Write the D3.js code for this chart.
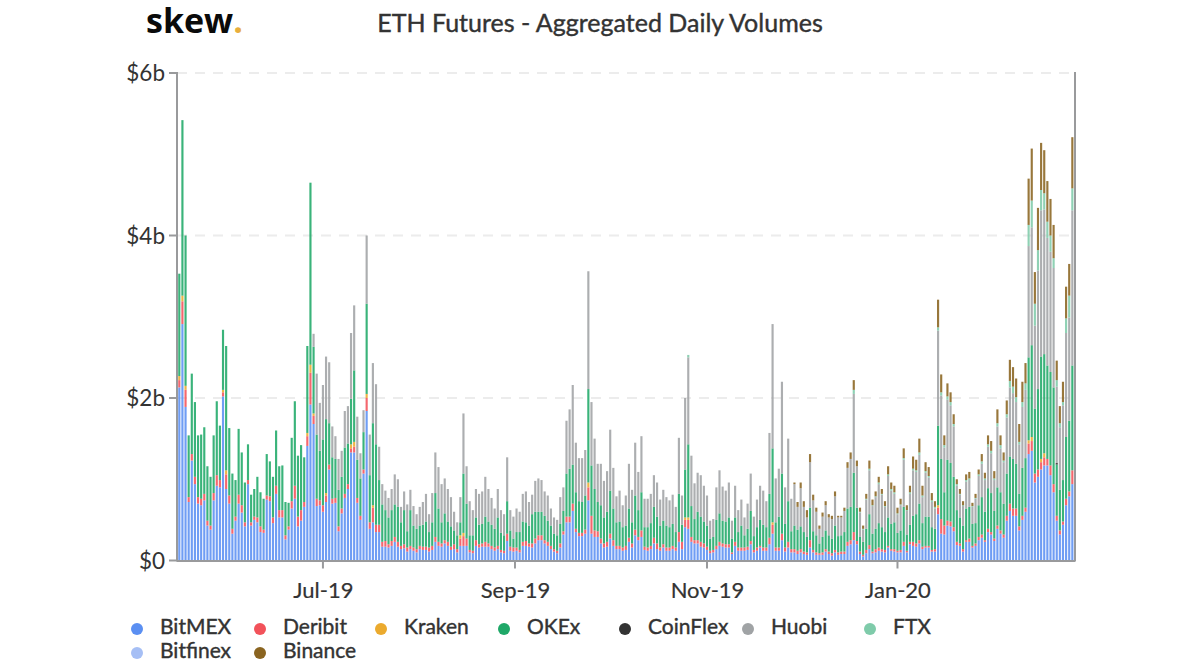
<!DOCTYPE html>
<html><head><meta charset="utf-8">
<script src="https://cdnjs.cloudflare.com/ajax/libs/d3/7.8.5/d3.min.js"></script>
<style>html,body{margin:0;padding:0;background:#fff}svg{display:block}text{font-family:Lato,sans-serif}</style>
</head><body><svg id="c" width="1200" height="670"></svg>
<script>
const bitmexTop=[2.13,2.91,1.89,.72,1.23,.94,.70,.68,.74,.43,.38,.74,.92,.90,2.02,.88,.70,.33,.49,.70,.59,.42,.94,.43,.50,.47,.35,.34,.75,.73,.46,.82,.53,.53,.26,.38,.64,.76,.42,.49,.66,1.41,1.92,1.68,.67,.68,.60,.72,1.12,.70,.71,.36,.58,.77,.88,1.33,1.33,.71,.50,1.07,1.84,.39,.47,.35,.35,.17,.17,.16,.18,.23,.17,
.14,.15,.11,.14,.12,.10,.14,.13,.13,.11,.13,.23,.18,.17,.21,.18,.13,.14,.10,.18,.18,.18,.10,.09,.18,.16,.17,.17,.17,.14,.12,.14,.10,.09,.24,.12,.11,.12,.10,.18,.18,.17,.16,.21,.25,.25,.21,.18,.14,.11,.09,.16,.32,.47,.47,.61,.35,.30,.30,.33,.74,.33,.29,.29,.21,.16,.17,.27,.18,.14,.14,.12,.13,.23,
.16,.31,.25,.29,.13,.12,.14,.21,.14,.12,.16,.12,.12,.14,.12,.23,.14,.41,.39,.23,.21,.21,.17,.16,.13,.09,.10,.14,.18,.17,.16,.16,.08,.18,.12,.12,.12,.13,.20,.10,.12,.16,.12,.12,.20,.33,.12,.12,.25,.11,.16,.10,.10,.08,.10,.08,.07,.16,.10,.07,.07,.07,.11,.08,.06,.10,.07,.08,.08,.18,.20,.25,.20,
.08,.05,.09,.14,.09,.10,.12,.11,.10,.16,.12,.11,.10,.10,.18,.10,.20,.18,.17,.21,.14,.16,.16,.11,.11,.57,.33,.32,.43,.42,.36,.19,.18,.11,.23,.23,.16,.18,.25,.28,.23,.35,.32,.24,.39,.33,.28,.49,.61,.55,.55,.37,.50,.60,1.31,1.35,.96,1.03,1.12,1.17,1.17,1.05,.84,.49,.32,.44,.68,.79,.94];
const deribitTop=[2.27,3.26,2.15,.78,1.31,1.03,.78,.76,.82,.49,.43,.83,1.05,.99,2.10,1.11,.80,.39,.54,.81,.68,.47,.99,.47,.54,.53,.42,.38,.80,.79,.53,.92,.62,.62,.31,.42,.73,.92,.54,.62,.72,1.57,2.41,1.81,.76,.74,.68,.83,1.18,.76,.77,.42,.64,.82,.94,1.43,1.46,.77,.55,1.12,2.05,.47,.68,.44,.44,.23,.24,.20,.24,.29,.23,
.18,.20,.16,.18,.16,.14,.18,.17,.17,.16,.18,.29,.23,.21,.25,.23,.17,.20,.14,.31,.34,.27,.13,.12,.25,.20,.21,.23,.21,.18,.16,.18,.13,.12,.33,.17,.16,.16,.13,.23,.24,.21,.21,.27,.31,.31,.25,.23,.18,.14,.12,.21,.36,.54,.54,.70,.39,.34,.34,.38,.96,.55,.37,.36,.27,.21,.23,.33,.25,.18,.18,.16,.18,.28,
.21,.38,.29,.37,.17,.16,.18,.28,.21,.16,.20,.16,.16,.18,.16,.35,.23,.53,.53,.29,.25,.25,.23,.21,.17,.12,.13,.18,.23,.21,.20,.20,.10,.23,.16,.16,.16,.17,.24,.13,.16,.18,.16,.16,.28,.47,.16,.16,.33,.16,.23,.14,.14,.12,.14,.11,.10,.25,.13,.10,.09,.10,.14,.11,.09,.13,.10,.11,.11,.23,.25,.35,.24,
.11,.07,.13,.19,.11,.14,.16,.14,.13,.18,.14,.14,.12,.13,.23,.12,.23,.23,.21,.25,.17,.18,.18,.13,.14,.68,.51,.43,.49,.48,.41,.23,.21,.14,.25,.27,.18,.21,.29,.32,.25,.39,.35,.27,.43,.37,.32,.55,.70,.64,.64,.42,.55,.65,1.48,1.52,1.07,1.12,1.25,1.32,1.25,1.17,.94,.55,.37,.48,.76,.85,1.11];
const okexTop=[3.53,5.42,4.0,1.54,2.3,1.95,1.54,1.55,1.64,1.16,1.03,1.54,1.96,1.66,2.84,2.64,1.63,1.07,.99,1.62,1.33,.96,1.43,.81,.88,1.03,.84,.76,1.31,1.22,1.03,1.60,1.16,1.17,.72,.71,1.51,1.96,1.29,1.42,1.27,2.64,4.65,2.63,1.55,1.35,1.49,1.74,1.69,1.27,1.25,.87,1.03,1.39,1.44,1.99,2.34,1.24,1.01,1.58,3.16,1.05,1.69,1.43,.99,.69,.62,.53,.62,.69,.66,
.47,.62,.36,.62,.43,.39,.43,.44,.48,.35,.47,.83,.64,.47,.58,.48,.42,.37,.31,.47,1.07,.70,.31,.31,.53,.44,.45,.54,.48,.44,.39,.53,.34,.31,.73,.37,.27,.35,.35,.48,.47,.43,.57,.60,.60,.60,.55,.49,.43,.33,.31,.45,.61,1.07,1.13,1.18,.84,.73,.72,.80,2.11,1.17,.88,.72,.68,.53,.60,.86,.64,.47,.48,.41,.43,.64,
.47,.80,.62,.84,.41,.41,.46,.66,.54,.43,.49,.43,.41,.45,.35,.82,.44,1.12,1.43,.67,.51,.60,.54,.48,.43,.27,.29,.50,.58,.49,.48,.53,.27,.53,.35,.43,.31,.39,.61,.30,.41,.50,.44,.41,.82,1.38,.47,.54,1.07,.45,.73,.36,.43,.38,.42,.35,.29,.65,.36,.31,.21,.29,.37,.31,.27,.43,.30,.31,.35,.64,.66,1.08,.65,
.29,.23,.39,.57,.33,.39,.46,.41,.35,.53,.45,.47,.34,.37,.66,.32,.44,.55,.57,.70,.46,.54,.54,.41,.39,1.66,1.25,.84,1.24,1.20,1.03,.62,.53,.43,.64,.66,.45,.46,.68,.78,.60,.89,.83,.61,.90,.84,.70,1.07,1.28,1.25,1.19,.82,1.14,1.26,2.50,2.65,1.87,2.11,2.51,2.54,2.40,2.32,2.13,1.20,.87,.99,1.52,1.72,2.40];
const allTop=[3.53,5.42,4.0,1.54,2.3,1.95,1.54,1.55,1.64,1.16,1.03,1.54,1.96,1.66,2.84,2.64,1.63,1.07,.99,1.62,1.33,.96,1.43,.81,.88,1.03,.84,.76,1.31,1.22,1.03,1.60,1.16,1.17,.72,.71,1.51,1.96,1.29,1.42,1.27,2.64,4.65,2.79,2.30,1.94,2.16,2.51,2.44,1.65,1.53,1.25,1.35,1.84,1.90,2.80,3.14,1.77,1.32,1.85,4.0,1.55,2.43,2.17,1.40,.94,.86,.77,.88,1.06,1.0,
.66,.85,.69,.87,.67,.57,.66,.72,.82,.57,.83,1.33,1.15,.94,1.01,.88,.78,.60,.47,.78,1.81,1.16,.73,.62,.88,.82,.85,1.03,.88,.77,.64,.88,.62,.57,1.27,.62,.54,.64,.60,.82,.85,.72,.81,.98,1.01,.99,.85,.80,.64,.53,.50,.78,.90,1.72,1.86,2.16,1.45,1.26,1.26,1.36,3.56,1.95,1.50,1.19,1.19,.98,1.10,1.61,1.14,.79,.86,.68,.80,1.19,
.87,1.45,1.09,1.53,.76,.76,.82,1.05,.96,.75,.87,.78,.74,.81,.66,1.51,.80,2.0,2.53,1.29,.95,1.08,1.05,.92,.80,.49,.51,.90,1.11,.91,.86,.96,.49,.92,.62,.75,.53,.70,1.07,.54,.75,.92,.86,.73,1.57,2.91,1.01,1.13,2.20,.90,1.50,.76,.96,.72,.96,.73,.62,1.31,.81,.65,.43,.59,.73,.57,.55,.85,.55,.55,.65,1.21,1.33,2.22,1.23,
.65,.43,.82,1.23,.75,.85,1.03,.88,.73,1.16,.96,.92,.65,.76,1.38,.68,.92,1.28,1.24,1.50,.92,1.21,1.15,.83,.73,3.21,2.29,1.54,2.18,2.07,1.80,1.0,.88,.73,1.06,1.09,.71,.82,1.12,1.31,1.08,1.54,1.47,1.10,1.86,1.54,1.33,1.97,2.47,2.38,2.24,1.68,2.20,2.43,4.70,5.07,3.55,4.34,5.14,5.05,4.67,4.45,4.13,2.46,1.90,2.20,3.37,3.65,5.21];
// Lower edge of the Binance band for the days where it appears (from binanceFirstDay on).
const binanceFirstDay=197;
const binanceFloor=[.94,.66,.89,.66,.53,1.21,.74,.60,.39,.54,.68,.53,.51,.79,.53,.53,.61,1.14,1.25,2.10,1.16,
.60,.39,.76,1.13,.68,.79,.96,.82,.67,1.06,.88,.84,.58,.69,1.26,.62,.84,1.13,1.11,1.33,.80,1.10,1.04,.74,.66,2.87,2.07,1.42,2.02,1.95,1.68,.94,.82,.68,.99,1.01,.67,.77,1.06,1.22,1.01,1.43,1.35,1.01,1.69,1.42,1.23,1.80,2.21,2.14,2.01,1.46,1.95,2.18,4.13,4.43,3.16,3.82,4.56,4.52,4.17,4.00,3.72,2.22,1.69,1.95,2.98,3.26,4.58];
// FTX volume for the last days, plus two earlier visible tips.
const ftxFirstDay=218;
const ftxVolume=[.01,.01,.01,.02,.01,.01,.02,.01,.01,.02,.02,.02,.01,.01,.02,.01,.02,.02,.02,.03,.02,.02,.02,.02,.02,.04,.04,.03,.04,.04,.03,.02,.01,.01,.02,.02,.01,.01,.02,.03,.02,.03,.03,.02,.04,.04,.02,.04,.08,.08,.06,.03,.06,.08,.26,.33,.27,.25,.25,.20,.20,.20,.12,.08,.05,.04,.18,.27,.27];
const ftxTips=[[163,.03],[216,.05]];
// Days on which a Kraken or CoinFlex sliver is visible: [day, volume].
const krakenTips=[[0,.05],[1,.07],[2,.05],[14,.03],[15,.05],[41,.04],[42,.1],[43,.03],[47,.03],[55,.05],[56,.06],[60,.05],[62,.03],[90,.04],[91,.04],[131,.06],[162,.03],[163,.03],[190,.03],[243,.03],[272,.04],[273,.05],[276,.04],[277,.05]];
const coinflexTips=[[281,.02]];
const seriesNames=["BitMEX","Deribit","Kraken","OKEx","CoinFlex","Huobi","FTX","Bitfinex","Binance"];
const seriesColors=["#5b8ff2","#f2525a","#ebaa2e","#1fa868","#333333","#a0a3a5","#7fcbaa","#a6bff5","#8a6420"];
const yTicks=[0,2,4,6];
const yTickLabels=["$0","$2b","$4b","$6b"];
const xTickDays=[46,107.5,169,230];
const xTickLabels=["Jul-19","Sep-19","Nov-19","Jan-20"];
const chartTitle="ETH Futures - Aggregated Daily Volumes";

const pick=(list,d)=>{const f=list.find(p=>p[0]===d);return f?f[1]:0;};
const rows=bitmexTop.map((b,i)=>{
  const kraken=pick(krakenTips,i), coinflex=pick(coinflexTips,i);
  const ftx=i>=ftxFirstDay?ftxVolume[i-ftxFirstDay]:pick(ftxTips,i);
  const floor=i>=binanceFirstDay?binanceFloor[i-binanceFirstDay]:allTop[i];
  return {BitMEX:b,Deribit:Math.max(0,deribitTop[i]-b-kraken),Kraken:kraken,
    OKEx:Math.max(0,okexTop[i]-deribitTop[i]-coinflex),CoinFlex:coinflex,
    Huobi:Math.max(0,floor-okexTop[i]-ftx),FTX:ftx,Bitfinex:0,Binance:Math.max(0,allTop[i]-floor),day:i};
});
const svg=d3.select("#c");
const L=177,R=1075,T=73,B=560.5;
const x=d3.scaleLinear().domain([-0.5,rows.length-0.5]).range([177.74,1073.9]);
const y=d3.scaleLinear().domain([0,6]).range([B,T]);
const barW=2.15;
// grid
svg.append("g").selectAll("line").data(yTicks.filter(d=>d>0)).join("line")
 .attr("x1",L).attr("x2",R).attr("y1",d=>y(d)).attr("y2",d=>y(d))
 .attr("stroke","#ececec").attr("stroke-width",2).attr("stroke-dasharray","10,8");
// bars
const stack=d3.stack().keys(seriesNames)(rows);
const color=d3.scaleOrdinal(seriesNames,seriesColors);
svg.append("g").attr("fill-opacity",.88).selectAll("g").data(stack).join("g").attr("fill",s=>color(s.key))
 .selectAll("rect").data(s=>s.filter(d=>d[1]>d[0])).join("rect")
 .attr("x",d=>x(d.data.day)-barW/2).attr("width",barW)
 .attr("y",d=>y(d[1])).attr("height",d=>y(d[0])-y(d[1]));
// axes
const axisCol="#999a9c";
const ax=svg.append("g").attr("stroke",axisCol).attr("stroke-width",2).attr("fill","none");
ax.append("line").attr("x1",L).attr("x2",L).attr("y1",T-1).attr("y2",B+1);
ax.append("line").attr("x1",R).attr("x2",R).attr("y1",T-1).attr("y2",B+1);
ax.append("line").attr("x1",L).attr("x2",R).attr("y1",B+.5).attr("y2",B+.5);
ax.selectAll(".yt").data(yTicks).join("line").attr("x1",169).attr("x2",L).attr("y1",d=>y(d)).attr("y2",d=>y(d));
ax.selectAll(".xt").data(xTickDays).join("line").attr("x1",d=>x(d)).attr("x2",d=>x(d)).attr("y1",B).attr("y2",B+8);
svg.append("g").selectAll("text").data(yTicks).join("text").attr("x",165).attr("y",d=>y(d)+8)
 .attr("text-anchor","end").attr("font-size",22.5).attr("fill","#333").text((d,i)=>yTickLabels[i]);
svg.append("g").selectAll("text").data(xTickDays).join("text").attr("x",d=>x(d)+.5).attr("y",598)
 .attr("text-anchor","middle").attr("font-size",22).attr("fill","#333").attr("stroke","#333").attr("stroke-width",.2).text((d,i)=>xTickLabels[i]);
// title and logo
svg.append("text").attr("x",600).attr("y",32).attr("text-anchor","middle").attr("font-size",25).attr("fill","#333").attr("stroke","#333").attr("stroke-width",.4).text(chartTitle);
const logo=svg.append("text").attr("x",146).attr("y",33).style("font-family","'Open Sans',sans-serif").attr("font-size",34).attr("font-weight",700).attr("fill","#0a0a0a");
logo.append("tspan").text("skew");
logo.append("tspan").attr("fill","#e8ae3c").text(".");
// legend
const legendX=[137,260,381,504,625,748,870,137,260];
const legendY=[629,629,629,629,629,629,629,653,653];
const lg=svg.append("g").selectAll("g").data(seriesNames).join("g").attr("transform",(d,i)=>`translate(${legendX[i]},${legendY[i]})`);
lg.append("circle").attr("r",6).attr("fill",d=>color(d));
lg.append("text").attr("x",23).attr("y",5).attr("font-size",21).attr("fill","#333").attr("stroke","#333").attr("stroke-width",.4).text(d=>d);
</script></body></html>
